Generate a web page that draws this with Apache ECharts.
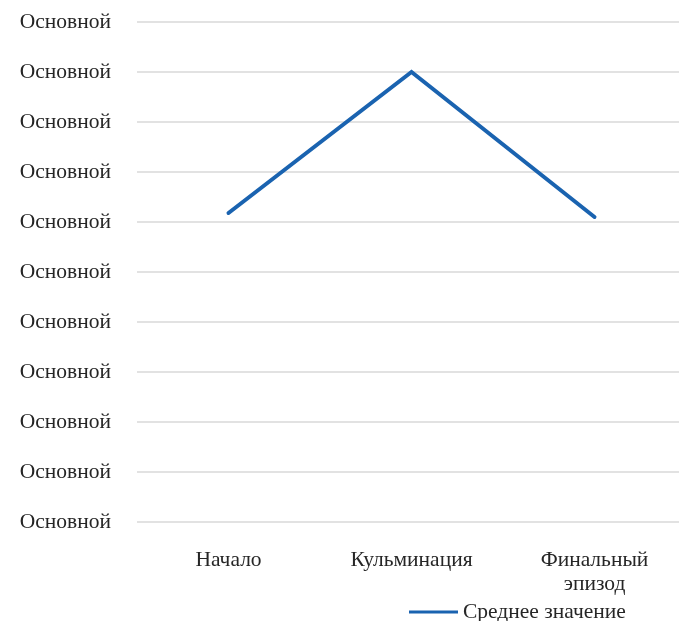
<!DOCTYPE html>
<html>
<head>
<meta charset="utf-8">
<script src="https://cdn.jsdelivr.net/npm/echarts@6/dist/echarts.min.js"></script>
<style>html,body{margin:0;padding:0;background:#fff}#c{width:679px;height:621px}</style>
</head>
<body>
<div id="c"></div>
<script>
const categories = ['Начало', 'Кульминация', 'Финальный\nэпизод'];
const seriesName = 'Среднее значение';
const values = [6.18, 9.0, 6.1];
const yTickLabels = ['Основной','Основной','Основной','Основной','Основной','Основной','Основной','Основной','Основной','Основной','Основной'];

const chart = echarts.init(document.getElementById('c'), null, {renderer: 'canvas'});
const font = 'Liberation Serif';
chart.setOption({
  animation: false,
  backgroundColor: '#fff',
  grid: {left: 137, top: 22, right: -7, bottom: 99, containLabel: false, outerBoundsMode: 'none'},
  xAxis: {
    type: 'category',
    data: categories,
    boundaryGap: true,
    axisLine: {show: false},
    axisTick: {show: false},
    axisLabel: {fontFamily: font, fontSize: 21.5, color: '#262626', margin: 26, lineHeight: 24}
  },
  yAxis: {
    type: 'value',
    min: 0, max: 10, interval: 1,
    axisLine: {show: false},
    axisTick: {show: false},
    splitLine: {lineStyle: {color: '#d9d9d9', width: 1.5}},
    axisLabel: {
      fontFamily: font, fontSize: 21.5, color: '#262626', margin: 26,
      formatter: (v) => yTickLabels[Math.round(v)]
    }
  },
  legend: {
    left: 404, top: 596,
    itemWidth: 49, itemHeight: 3, itemGap: 10,
    icon: 'rect',
    textStyle: {fontFamily: font, fontSize: 21.5, color: '#262626', padding: [0,0,0,0]},
    data: [seriesName]
  },
  series: [{
    name: seriesName,
    type: 'line',
    data: values,
    symbol: 'none',
    lineStyle: {color: '#1a63b0', width: 4, cap: 'round', join: 'miter'},
    itemStyle: {color: '#1a63b0'}
  }]
});
</script>
</body>
</html>
